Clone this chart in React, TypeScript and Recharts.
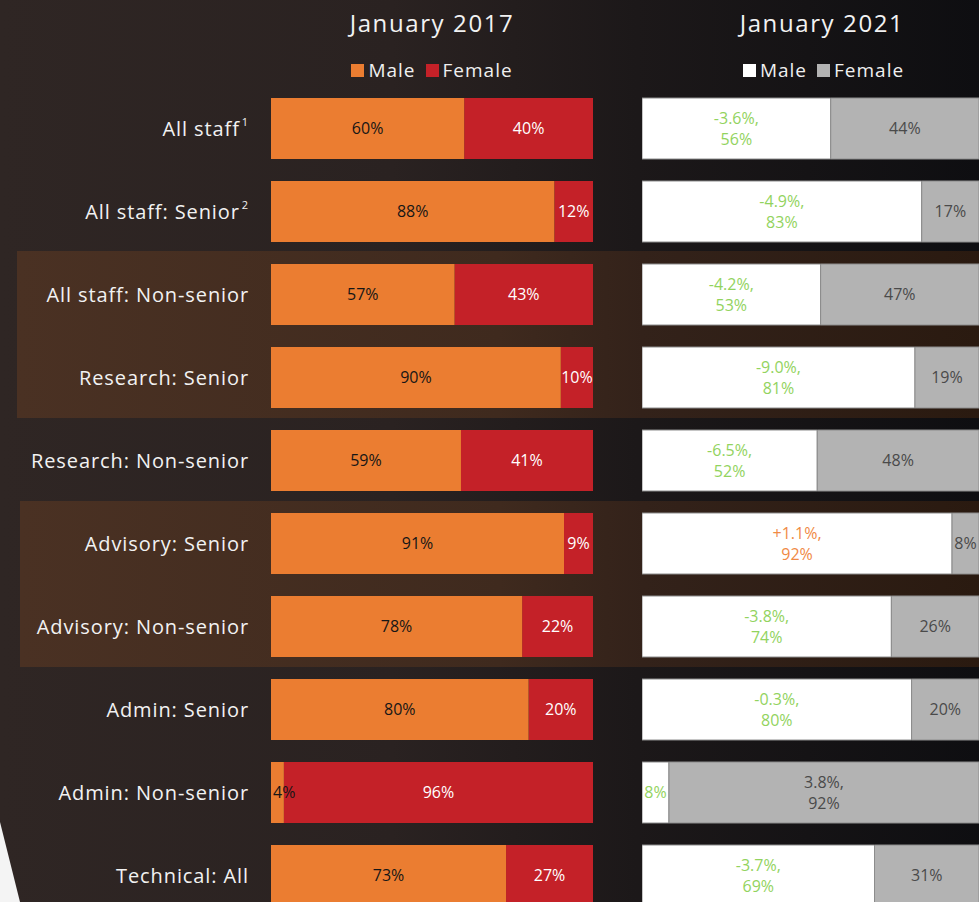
import React from "react";
import { Bar, BarChart, LabelList, Legend, XAxis, YAxis } from "recharts";

const categories = [
  "All staff",
  "All staff: Senior",
  "All staff: Non-senior",
  "Research: Senior",
  "Research: Non-senior",
  "Advisory: Senior",
  "Advisory: Non-senior",
  "Admin: Senior",
  "Admin: Non-senior",
  "Technical: All",
];
const footnotes = ["1", "2", "", "", "", "", "", "", "", ""];

const male2017 = [60, 88, 57, 90, 59, 91, 78, 80, 4, 73];
const female2017 = [40, 12, 43, 10, 41, 9, 22, 20, 96, 27];

const male2021 = [56, 83, 53, 81, 52, 92, 74, 80, 8, 69];
const female2021 = [44, 17, 47, 19, 48, 8, 26, 20, 92, 31];
const change2021 = ["-3.6%", "-4.9%", "-4.2%", "-9.0%", "-6.5%", "+1.1%", "-3.8%", "-0.3%", "3.8%", "-3.7%"];
// which segment carries the change note
const changeOn = ["m", "m", "m", "m", "m", "m", "m", "m", "f", "m"];

const ORANGE = "#eb7d31";
const RED = "#c42128";
const WHITE = "#ffffff";
const GREY = "#b3b3b3";
const GREEN = "#92d35e";
const FONT = "'Open Sans', sans-serif";

const rows2017 = categories.map((name, i) => ({
  name,
  male: male2017[i],
  female: female2017[i],
  maleLabel: `${male2017[i]}%`,
  femaleLabel: `${female2017[i]}%`,
}));

const rows2021 = categories.map((name, i) => ({
  name,
  male: male2021[i],
  female: female2021[i],
  maleLabel: changeOn[i] === "m" ? `${change2021[i]},|${male2021[i]}%` : `${male2021[i]}%`,
  femaleLabel: changeOn[i] === "f" ? `${change2021[i]},|${female2021[i]}%` : `${female2021[i]}%`,
}));

const CHART_H = 917;
const TOP = 87;

function CategoryTick(props: any) {
  const { x, y, payload, index } = props;
  const note = footnotes[index] || "";
  return (
    <text x={x} y={y} dy="0.35em" textAnchor="end" fill="#f2f2f2" fontSize={20} fontFamily={FONT} letterSpacing={0.9}>
      {payload.value}
      {note && (
        <tspan dx={2} dy={-10} fontSize={11}>
          {note}
        </tspan>
      )}
    </text>
  );
}

function makeLabel(colorFn: (v: string) => string) {
  return (props: any) => {
    const vb = props.viewBox ?? props;
    // reversed axis gives negative widths, so normalise the box first
    const left = Math.min(vb.x, vb.x + vb.width);
    const w = Math.abs(vb.width);
    const top = Math.min(vb.y, vb.y + vb.height);
    const h = Math.abs(vb.height);
    const value = String(props.value ?? "");
    const lines = value.split("|");
    // very thin segments: start the text at the segment edge instead of centring
    const narrow = w < 20;
    const cx = narrow ? left + 2 : left + w / 2;
    const cy = top + h / 2;
    const lh = 21;
    return (
      <text x={cx} y={cy} textAnchor={narrow ? "start" : "middle"} fill={colorFn(value)} fontSize={16} fontFamily={FONT}>
        {lines.map((l, k) => (
          <tspan key={k} x={cx} y={cy + (k - (lines.length - 1) / 2) * lh} dy="0.35em">
            {l}
          </tspan>
        ))}
      </text>
    );
  };
}

function LegendContent({ items }: { items: { label: string; color: string }[] }) {
  return (
    <div style={{ display: "flex", justifyContent: "center", alignItems: "center", fontFamily: FONT, fontSize: 19, color: "#f0f0f0", letterSpacing: 1 }}>
      {items.map((it, k) => (
        <span key={k} style={{ display: "inline-flex", alignItems: "center", marginLeft: k ? 10 : 0 }}>
          <span style={{ width: 13, height: 13, background: it.color, display: "inline-block", marginRight: 4 }} />
          {it.label}
        </span>
      ))}
    </div>
  );
}

const title: React.CSSProperties = {
  position: "absolute",
  top: 6,
  fontFamily: FONT,
  fontSize: 24,
  color: "#f2f2f2",
  letterSpacing: 1.6,
  textAlign: "center",
  width: 300,
};

const band = (top: number, height: number, left: number): React.CSSProperties => ({
  position: "absolute",
  top,
  height,
  left,
  right: 0,
  background: "linear-gradient(to right, #4a3123 0%, #3f2a1e 50%, #33221a 65%, #2a1a10 100%)",
});

export default function App() {
  return (
    <div
      style={{
        position: "absolute",
        left: 0,
        top: 0,
        width: 979,
        height: 902,
        overflow: "hidden",
        background: "linear-gradient(to right, #2f2624 0%, #2a2221 40%, #1c1819 65%, #0e0e11 100%)",
      }}
    >
      <div style={band(251, 167, 17)} />
      <div style={band(501, 166, 20)} />

      <div style={{ ...title, left: 282 }}>January 2017</div>
      <div style={{ ...title, left: 672 }}>January 2021</div>

      <div style={{ position: "absolute", left: 0, top: 0 }}>
        {/* reversed axis: female stacks first from the right, so male labels paint on top */}
        <BarChart width={593} height={CHART_H} data={rows2017} layout="vertical" margin={{ top: TOP, right: 0, bottom: 0, left: 0 }} barSize={61}>
          <XAxis type="number" domain={[0, 100]} reversed hide />
          <YAxis type="category" dataKey="name" width={271} axisLine={false} tickLine={false} tickSize={0} tickMargin={22} tick={<CategoryTick />} interval={0} />
          <Legend
            verticalAlign="middle"
            align="center"
            wrapperStyle={{ top: 57, left: 271, width: 322 }}
            content={() => <LegendContent items={[{ label: "Male", color: ORANGE }, { label: "Female", color: RED }]} />}
          />
          <Bar dataKey="female" name="Female" stackId="a" fill={RED} isAnimationActive={false}>
            <LabelList dataKey="femaleLabel" content={makeLabel(() => "#ffffff")} />
          </Bar>
          <Bar dataKey="male" name="Male" stackId="a" fill={ORANGE} isAnimationActive={false}>
            <LabelList dataKey="maleLabel" content={makeLabel(() => "#161616")} />
          </Bar>
        </BarChart>
      </div>

      <div style={{ position: "absolute", left: 642, top: 0 }}>
        <BarChart width={337} height={CHART_H} data={rows2021} layout="vertical" margin={{ top: TOP, right: 0, bottom: 0, left: 0 }} barSize={61}>
          <XAxis type="number" domain={[0, 100]} hide />
          <YAxis type="category" dataKey="name" hide width={0} />
          <Legend
            verticalAlign="middle"
            align="center"
            wrapperStyle={{ top: 57, left: 13, width: 337 }}
            content={() => <LegendContent items={[{ label: "Male", color: WHITE }, { label: "Female", color: GREY }]} />}
          />
          <Bar dataKey="male" name="Male" stackId="b" fill={WHITE} stroke="#8c8c8c" strokeWidth={1} isAnimationActive={false}>
            <LabelList dataKey="maleLabel" content={makeLabel((v) => (v.startsWith("+") ? "#f08a45" : GREEN))} />
          </Bar>
          <Bar dataKey="female" name="Female" stackId="b" fill={GREY} stroke="#8c8c8c" strokeWidth={1} isAnimationActive={false}>
            <LabelList dataKey="femaleLabel" content={makeLabel(() => "#4a4a4a")} />
          </Bar>
        </BarChart>
      </div>

      <svg width={979} height={902} style={{ position: "absolute", left: 0, top: 0, pointerEvents: "none" }}>
        <polygon points="0,822 20,902 0,902" fill="#f4f4f4" />
      </svg>
    </div>
  );
}
